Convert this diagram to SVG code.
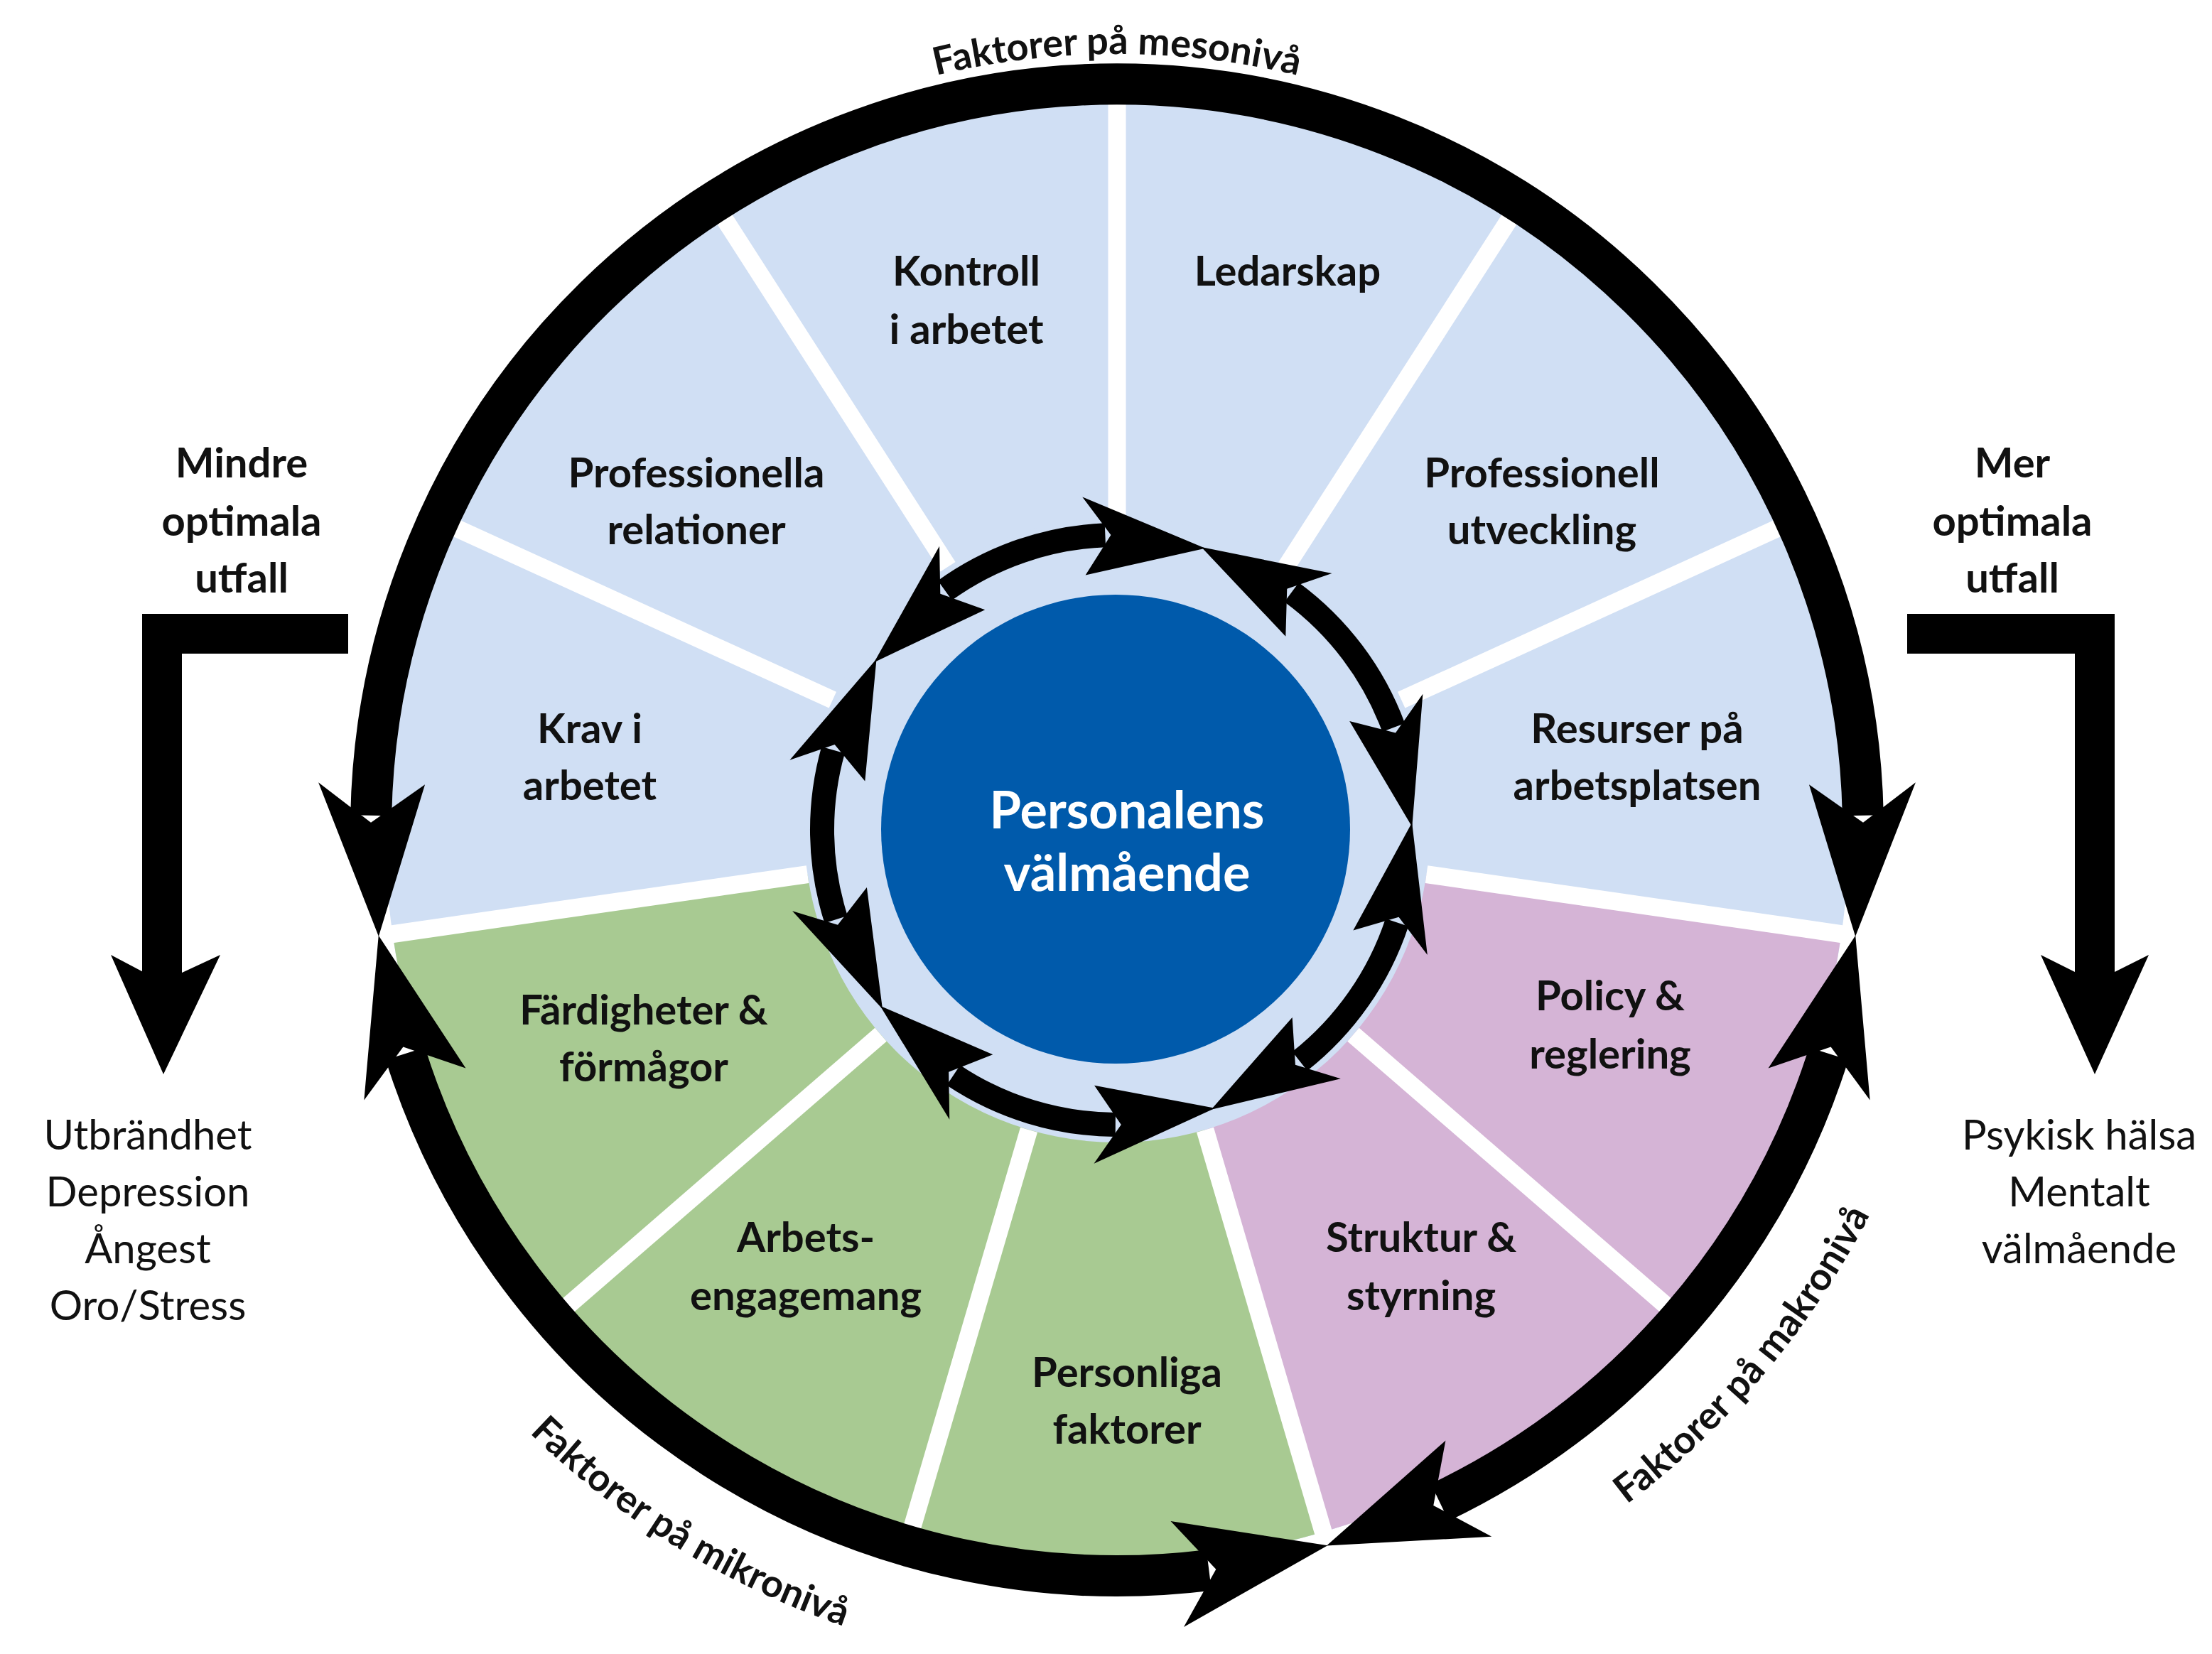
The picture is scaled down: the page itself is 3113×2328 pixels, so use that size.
<svg xmlns="http://www.w3.org/2000/svg" width="3113" height="2328" viewBox="0 0 3113 2328">
<style>
.lbl{font-family:Lato,"Open Sans","Liberation Sans",sans-serif;font-weight:bold;font-size:58px;fill:#111;text-anchor:middle}
.reg{font-family:Lato,"Open Sans","Liberation Sans",sans-serif;font-size:58px;fill:#111;text-anchor:middle}
.ctr{font-family:Lato,"Open Sans","Liberation Sans",sans-serif;font-weight:bold;font-size:72px;fill:#fff;text-anchor:middle}
.arc{font-family:Lato,"Open Sans","Liberation Sans",sans-serif;font-weight:bold;font-size:54px;fill:#111}
.ring{fill:none;stroke:#000;stroke-width:58}
.iring{fill:none;stroke:#000;stroke-width:34}
.spoke{stroke:#fff;stroke-width:25}
</style>
<defs>
<marker id="oS" markerUnits="userSpaceOnUse" viewBox="-60 -90 240 180" refX="0" refY="0" markerWidth="240" markerHeight="180" orient="auto-start-reverse"><path d="M10,0 L-45,-75 L170,-14 L-45,75 Z"/></marker>
<marker id="oE" markerUnits="userSpaceOnUse" viewBox="-60 -90 240 180" refX="0" refY="0" markerWidth="240" markerHeight="180" orient="auto"><path d="M10,0 L-45,-75 L170,14 L-45,75 Z"/></marker>
<marker id="iS" markerUnits="userSpaceOnUse" viewBox="-50 -70 200 140" refX="0" refY="0" markerWidth="200" markerHeight="140" orient="auto-start-reverse"><path d="M8,0 L-30,-55 L140,-24 L-30,55 Z"/></marker>
<marker id="iE" markerUnits="userSpaceOnUse" viewBox="-50 -70 200 140" refX="0" refY="0" markerWidth="200" markerHeight="140" orient="auto"><path d="M8,0 L-30,-55 L140,24 L-30,55 Z"/></marker>
<path id="pMeso" d="M735.5,466.1 A1092,1092 0 0 1 2408.5,466.1"/>
<path id="pMikro" d="M447.6,1542.1 A1185,1185 0 0 0 1745.1,2340.3"/>
<path id="pMakro" d="M1778.6,2339.9 A1190,1190 0 0 0 2762,1168"/>
</defs>
<rect width="3113" height="2328" fill="#fff"/>
<g id="wheel">
<circle cx="1572" cy="1168" r="1030" fill="#d0dff4"/>
<path d="M1572,1168 L1862.2,2156.3 A1030,1030 0 0 1 552.5,1314.6 Z" fill="#a8ca92"/>
<path d="M1572,1168 L2591.5,1314.6 A1030,1030 0 0 1 1862.2,2156.3 Z" fill="#d5b4d6"/>
<circle cx="1572" cy="1168" r="440" fill="#d0dff4"/>
<line class="spoke" x1="1572" y1="728" x2="1572" y2="133"/>
<line class="spoke" x1="1809.9" y1="797.8" x2="2131.5" y2="297.3"/>
<line class="spoke" x1="1972.2" y1="985.2" x2="2513.4" y2="738.1"/>
<line class="spoke" x1="2007.5" y1="1230.6" x2="2596.4" y2="1315.3"/>
<line class="spoke" x1="1904.5" y1="1456.2" x2="2354.1" y2="1845.8"/>
<line class="spoke" x1="1696" y1="1590.2" x2="1863.6" y2="2161.1"/>
<line class="spoke" x1="1448" y1="1590.2" x2="1280.4" y2="2161.1"/>
<line class="spoke" x1="1239.5" y1="1456.2" x2="789.9" y2="1845.8"/>
<line class="spoke" x1="1136.5" y1="1230.6" x2="547.6" y2="1315.3"/>
<line class="spoke" x1="1171.8" y1="985.2" x2="630.6" y2="738.1"/>
<line class="spoke" x1="1334.1" y1="797.8" x2="1012.5" y2="297.3"/>
</g>
<g id="n-kontroll"><text class="lbl" x="1360" y="402">Kontroll</text><text class="lbl" x="1360" y="484">i arbetet</text></g>
<g id="n-ledarskap"><text class="lbl" x="1812" y="402">Ledarskap</text></g>
<g id="n-profrel"><text class="lbl" x="980" y="686">Professionella</text><text class="lbl" x="980" y="766">relationer</text></g>
<g id="n-profutv"><text class="lbl" x="2170" y="686">Professionell</text><text class="lbl" x="2170" y="766">utveckling</text></g>
<g id="n-krav"><text class="lbl" x="830" y="1046">Krav i</text><text class="lbl" x="830" y="1126">arbetet</text></g>
<g id="n-resurser"><text class="lbl" x="2304" y="1046">Resurser på</text><text class="lbl" x="2304" y="1126">arbetsplatsen</text></g>
<g id="n-policy"><text class="lbl" x="2266" y="1422">Policy &amp;</text><text class="lbl" x="2266" y="1504">reglering</text></g>
<g id="n-fardigheter"><text class="lbl" x="906" y="1442">Färdigheter &amp;</text><text class="lbl" x="906" y="1522">förmågor</text></g>
<g id="n-arbets"><text class="lbl" x="1134" y="1762">Arbets-</text><text class="lbl" x="1134" y="1844">engagemang</text></g>
<g id="n-struktur"><text class="lbl" x="2000" y="1762">Struktur &amp;</text><text class="lbl" x="2000" y="1844">styrning</text></g>
<g id="n-personliga"><text class="lbl" x="1586" y="1952">Personliga</text><text class="lbl" x="1586" y="2032">faktorer</text></g>
<g id="n-center"><circle cx="1570" cy="1167" r="330" fill="#005aab"/><text class="ctr" x="1586" y="1166">Personalens</text><text class="ctr" x="1586" y="1254">välmående</text></g>
<g id="connectors">
<path class="ring" d="M522.2,1147.8 A1050,1050 0 0 1 2621.8,1147.8" marker-start="url(#oS)" marker-end="url(#oE)"/>
<path class="ring" d="M1701.4,2210 A1050,1050 0 0 1 570.4,1483" marker-start="url(#oS)" marker-end="url(#oE)"/>
<path class="ring" d="M2573.6,1483 A1050,1050 0 0 1 2026.3,2114.6" marker-start="url(#oS)" marker-end="url(#oE)"/>
<path class="iring" d="M1817.7,833.6 A415,415 0 0 1 1961.2,1024" marker-start="url(#iS)" marker-end="url(#iE)"/>
<path class="iring" d="M1966,1298.3 A415,415 0 0 1 1829.2,1493.7" marker-start="url(#iS)" marker-end="url(#iE)"/>
<path class="iring" d="M1569.8,1583 A415,415 0 0 1 1341.8,1513.3" marker-start="url(#iS)" marker-end="url(#iE)"/>
<path class="iring" d="M1176.6,1294.2 A415,415 0 0 1 1172.5,1055.7" marker-start="url(#iS)" marker-end="url(#iE)"/>
<path class="iring" d="M1329.8,831 A415,415 0 0 1 1555.4,753.3" marker-start="url(#iS)" marker-end="url(#iE)"/>
<path d="M490,892 H228 V1385" fill="none" stroke="#000" stroke-width="56"/>
<path d="M156,1344 L228,1382 L310,1344 L230,1512 Z"/>
<path d="M2684,892 H2948 V1385" fill="none" stroke="#000" stroke-width="56"/>
<path d="M2872,1344 L2948,1382 L3024,1344 L2948,1512 Z"/>
</g>
<g id="arc-labels">
<text class="arc"><textPath href="#pMeso" startOffset="50%" text-anchor="middle">Faktorer på mesonivå</textPath></text>
<text class="arc"><textPath href="#pMikro" startOffset="50%" text-anchor="middle">Faktorer på mikronivå</textPath></text>
<text class="arc"><textPath href="#pMakro" startOffset="50%" text-anchor="middle">Faktorer på makronivå</textPath></text>
</g>
<g id="n-mindre"><text class="lbl" x="340" y="672">Mindre</text><text class="lbl" x="340" y="754">optimala</text><text class="lbl" x="340" y="834">utfall</text></g>
<g id="n-mer"><text class="lbl" x="2832" y="672">Mer</text><text class="lbl" x="2832" y="754">optimala</text><text class="lbl" x="2832" y="834">utfall</text></g>
<g id="n-utbrand"><text class="reg" x="208" y="1618">Utbrändhet</text><text class="reg" x="208" y="1698">Depression</text><text class="reg" x="208" y="1778">Ångest</text><text class="reg" x="208" y="1858">Oro/Stress</text></g>
<g id="n-psykisk"><text class="reg" x="2926" y="1618">Psykisk hälsa</text><text class="reg" x="2926" y="1698">Mentalt</text><text class="reg" x="2926" y="1778">välmående</text></g>
</svg>
